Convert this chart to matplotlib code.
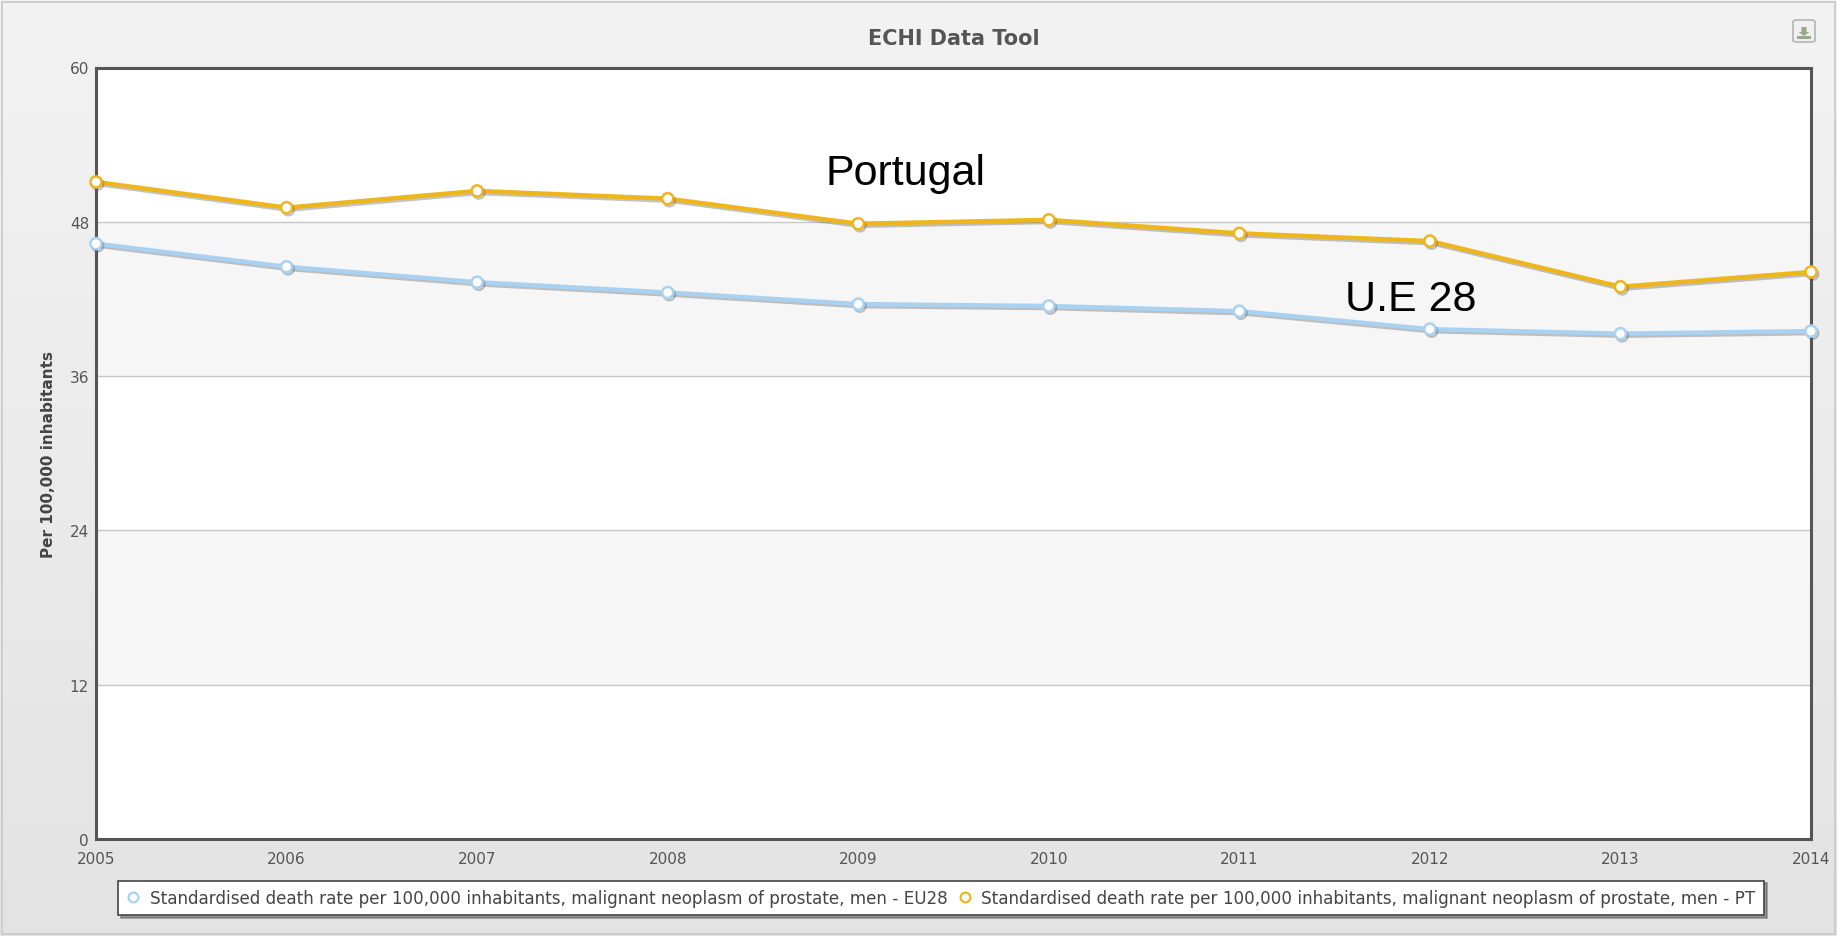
import matplotlib
matplotlib.use("Agg")
import matplotlib.pyplot as plt
import matplotlib.patheffects as pe
from matplotlib.lines import Line2D
from matplotlib.patches import Rectangle, FancyBboxPatch, Polygon
from matplotlib.colors import LinearSegmentedColormap
import numpy as np

years = [2005, 2006, 2007, 2008, 2009, 2010, 2011, 2012, 2013, 2014]
eu28 = [46.3, 44.5, 43.3, 42.5, 41.6, 41.45, 41.05, 39.65, 39.3, 39.5]
pt = [51.1, 49.1, 50.4, 49.8, 47.85, 48.15, 47.1, 46.5, 42.95, 44.1]
yticks = [0, 12, 24, 36, 48, 60]
label_eu = "Standardised death rate per 100,000 inhabitants, malignant neoplasm of prostate, men - EU28"
label_pt = "Standardised death rate per 100,000 inhabitants, malignant neoplasm of prostate, men - PT"
title = "ECHI Data Tool"
ylabel = "Per 100,000 inhabitants"

W, H = 1837, 937
fig = plt.figure(figsize=(W / 100, H / 100), dpi=100)

# background gradient
bg = fig.add_axes([0, 0, 1, 1], zorder=-10)
grad = np.linspace(0, 1, 256).reshape(-1, 1)
cmap = LinearSegmentedColormap.from_list("bg", ["#f3f3f3", "#e3e3e3"])
bg.imshow(grad, aspect="auto", cmap=cmap, extent=[0, 1, 0, 1], origin="upper")
bg.set_xlim(0, 1)
bg.set_ylim(0, 1)
bg.axis("off")
bg.add_patch(Rectangle((2 / W, 2 / H), 1 - 4 / W, 1 - 5 / H, fill=False,
                       edgecolor="#c8c8c8", lw=1.2))

# download button
bx, by, bw, bh = 1793 / W, 1 - 43 / H, 22 / W, 22 / H
bg.add_patch(FancyBboxPatch((bx, by), bw, bh, boxstyle="round,pad=0,rounding_size=0.002",
                            facecolor="#f0f0f0", edgecolor="#b5b5b5", lw=1.2))
cx = bx + bw / 2
arrow = [(cx - 2.5 / W, by + 15 / H), (cx + 2.5 / W, by + 15 / H), (cx + 2.5 / W, by + 10 / H),
         (cx + 5.5 / W, by + 10 / H), (cx, by + 6 / H), (cx - 5.5 / W, by + 10 / H),
         (cx - 2.5 / W, by + 10 / H)]
bg.add_patch(Polygon(arrow, closed=True, facecolor="#9aa88a", edgecolor="none"))
bg.add_patch(Rectangle((cx - 7 / W, by + 3.5 / H), 14 / W, 2.2 / H, facecolor="#9aa88a", edgecolor="none"))

left, right = 96 / W, 1811 / W
top, bottom = 1 - 68.5 / H, 1 - 840 / H
ax = fig.add_axes([left, bottom, right - left, top - bottom])
ax.set_facecolor("white")
ax.set_xlim(years[0], years[-1])
ax.set_ylim(0, 60)

# alternating bands
for i in range(len(yticks) - 1):
    if i % 2 == 1:
        ax.axhspan(yticks[i], yticks[i + 1], color="#f6f6f6", zorder=0, lw=0)
for yv in yticks[1:-1]:
    ax.axhline(yv, color="#c8c8c8", lw=1.0, zorder=1)

shadow = [pe.SimpleLineShadow(offset=(1.2, -1.5), shadow_color="#555555", alpha=0.35), pe.Normal()]
ax.plot(years, eu28, color="#a9d1f2", lw=3.2, marker="o", ms=8, mfc="white",
        mec="#a9d1f2", mew=1.8, zorder=4, path_effects=shadow, clip_on=False)
ax.plot(years, pt, color="#efb51c", lw=3.2, marker="o", ms=8, mfc="white",
        mec="#efb51c", mew=1.8, zorder=5, path_effects=shadow, clip_on=False)

ax.set_yticks(yticks)
ax.set_yticklabels([str(v) for v in yticks])
ax.set_xticks(years)
ax.set_xticklabels([str(y) for y in years])
ax.tick_params(axis="both", length=0, labelsize=11, labelcolor="#555555")
ax.tick_params(axis="y", pad=5)
ax.tick_params(axis="x", pad=9)
for s in ax.spines.values():
    s.set_color("#555555")
    s.set_linewidth(2.2)

ax.set_ylabel(ylabel, fontsize=11, fontweight="bold", color="#444444", labelpad=10)

fig.text((left + right) / 2, 1 - 39 / H, title, ha="center", va="center",
         fontsize=15, fontweight="bold", color="#555555")

# annotations
ax.text(2009.25, 51.8, "Portugal", fontsize=31, family="Liberation Sans",
        ha="center", va="center", color="black")
ax.text(2011.9, 42.0, "U.E 28", fontsize=31, family="Liberation Sans",
        ha="center", va="center", color="black")

handles = [Line2D([], [], ls="none", marker="o", ms=7, mfc="white", mec="#a9d1f2", mew=1.6),
           Line2D([], [], ls="none", marker="o", ms=7, mfc="white", mec="#efb51c", mew=1.6)]
leg = fig.legend(handles, [label_eu, label_pt], ncol=2, loc="center",
                 bbox_to_anchor=(941 / W, 1 - 899 / H), fontsize=12.1, frameon=True,
                 fancybox=False, shadow=True, handlelength=0.8, handletextpad=0.6,
                 columnspacing=0.6, borderpad=0.5, labelcolor="#444444")
leg.get_frame().set_edgecolor("#444444")
leg.get_frame().set_linewidth(1.2)

fig.savefig("out.png", dpi=100)
